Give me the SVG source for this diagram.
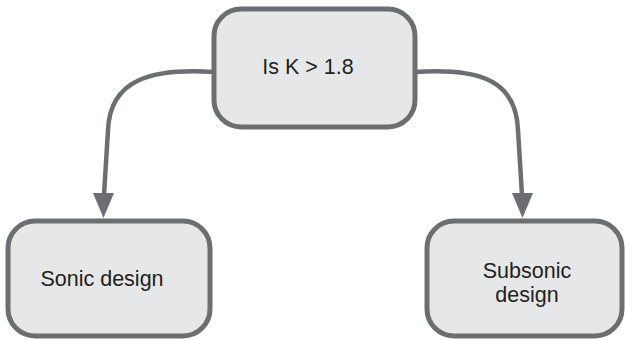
<svg xmlns="http://www.w3.org/2000/svg" width="625" height="340" viewBox="0 0 625 340">
<defs>
<style>
.box{fill:#e6e7e8;stroke:#6d6e71;stroke-width:5}
.lbl{font-family:"Liberation Sans",Arial,sans-serif;font-size:21.5px;fill:#231f20;text-anchor:middle}
.edge{fill:none;stroke:#6d6e71;stroke-width:4.5}
.head{fill:#6d6e71}
</style>
</defs>
<rect width="625" height="340" fill="#ffffff"/>
<g id="connectors">
<path class="edge" d="M214,72 C150,68 110,80 108,130 L104,195"/>
<path class="head" d="M93,193 L114,193 L103.5,218 Z"/>
<path class="edge" d="M415,72 C480,68 516,80 518,130 L522,195"/>
<path class="head" d="M512,193 L533,193 L522.5,218 Z"/>
</g>
<g id="node-k">
<rect class="box" x="214" y="9" width="201" height="118" rx="27"/>
<text class="lbl" x="308" y="74">Is K &gt; 1.8</text>
</g>
<g id="node-sonic">
<rect class="box" x="8" y="221" width="202" height="115" rx="27"/>
<text class="lbl" x="102" y="286">Sonic design</text>
</g>
<g id="node-subsonic">
<rect class="box" x="427" y="221" width="195" height="115" rx="27"/>
<text class="lbl" x="527" y="278">Subsonic</text>
<text class="lbl" x="527" y="302">design</text>
</g>
</svg>
